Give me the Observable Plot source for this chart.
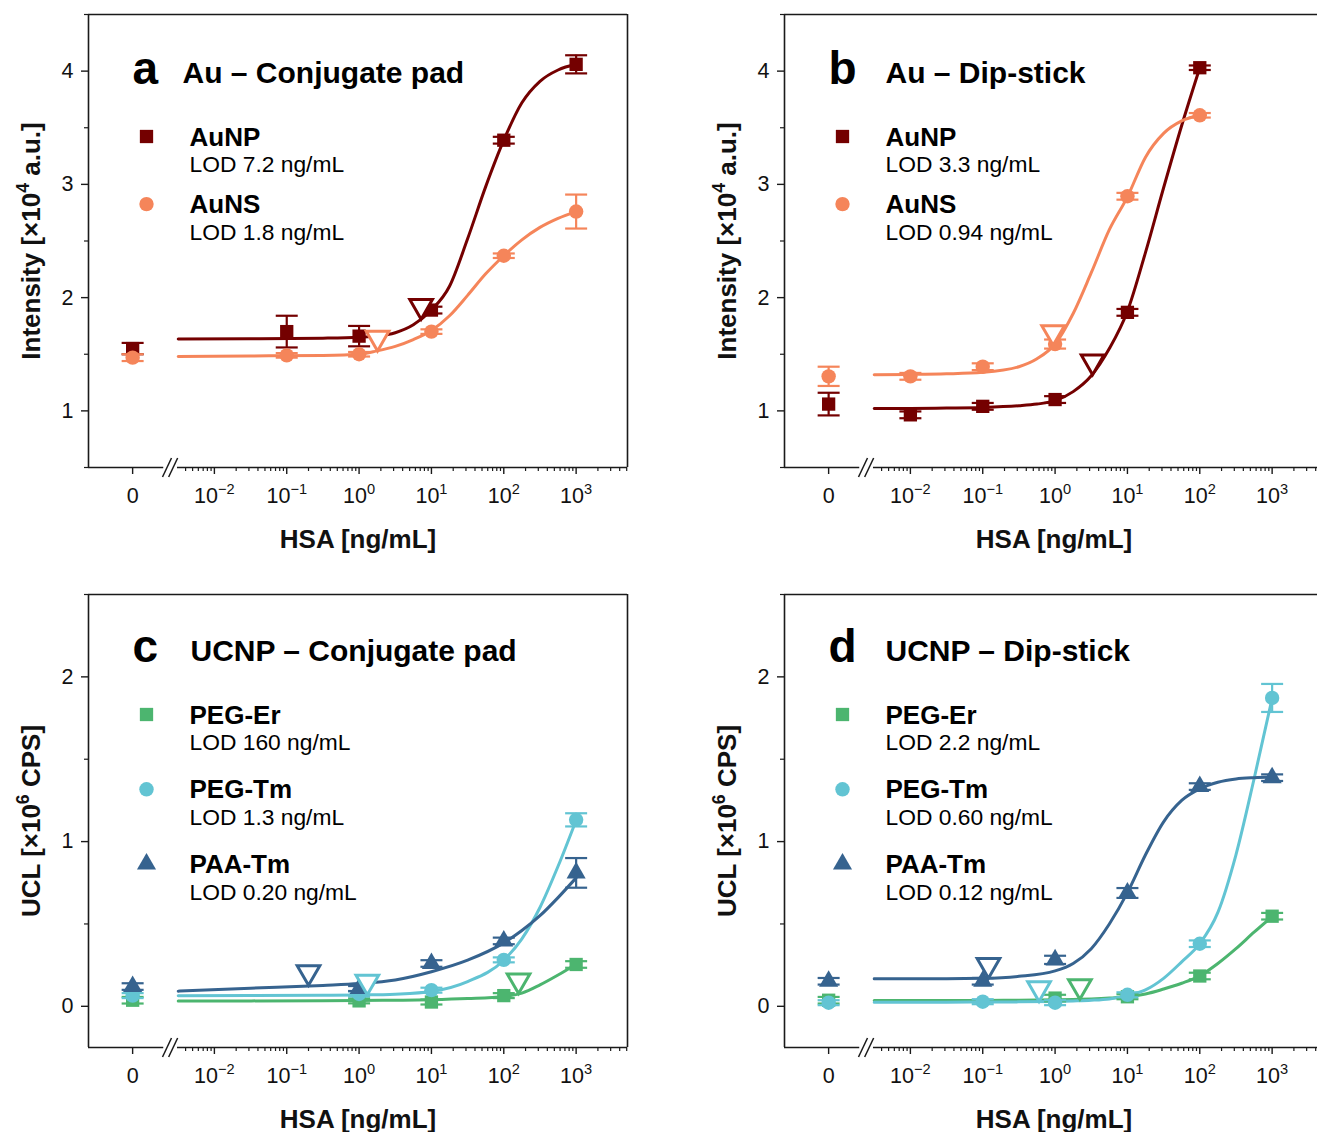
<!DOCTYPE html>
<html><head><meta charset="utf-8">
<script src="https://cdn.jsdelivr.net/npm/d3@7"></script>
<script src="https://cdn.jsdelivr.net/npm/@observablehq/plot@0.6"></script>
<style>
html,body{margin:0;padding:0;background:#fff;overflow:hidden;width:1317px;height:1132px;}
#wrap{position:relative;width:1317px;height:1132px;overflow:hidden;}
.panel{position:absolute;width:660px;height:566px;}
.panel svg{max-width:none !important;width:660px;height:566px;}
</style></head><body><div id="wrap"></div>
<script>
// ================= DATA =================
// x tick labels (broken axis: "0" then log decades)
const X_MAJOR = [0, 0.01, 0.1, 1, 10, 100, 1000];
const X_MAJOR_LABELS = ["0", "10^{−2}", "10^{−1}", "10^{0}", "10^{1}", "10^{2}", "10^{3}"];

// ----- Panel a : Au – Conjugate pad -----
const a_AuNP_conc = [0, 0.1, 1, 10, 100, 1000];
const a_AuNP_val  = [1.55, 1.70, 1.66, 1.89, 3.39, 4.06];
const a_AuNP_err  = [0.05, 0.14, 0.09, 0.03, 0.03, 0.08];
const a_AuNS_conc = [0, 0.1, 1, 10, 100, 1000];
const a_AuNS_val  = [1.47, 1.49, 1.50, 1.70, 2.37, 2.76];
const a_AuNS_err  = [0.03, 0.02, 0.02, 0.02, 0.02, 0.15];
const a_fitLog    = [-2.5, -1.5, -0.5, 0, 0.25, 0.5, 0.75, 1, 1.25, 1.5, 1.75, 2, 2.25, 2.5, 2.75, 3];
const a_AuNP_fit  = [1.635, 1.637, 1.642, 1.65, 1.66, 1.69, 1.76, 1.89, 2.10, 2.52, 2.98, 3.39, 3.72, 3.91, 4.01, 4.06];
const a_AuNS_fit  = [1.48, 1.485, 1.49, 1.50, 1.53, 1.57, 1.63, 1.71, 1.84, 2.02, 2.21, 2.37, 2.51, 2.62, 2.70, 2.76];
const a_lodConc   = [7.2, 1.8];
const a_lodVal    = [1.81, 1.53];

// ----- Panel b : Au – Dip-stick -----
const b_AuNP_conc = [0, 0.01, 0.1, 1, 10, 100];
const b_AuNP_val  = [1.06, 0.965, 1.04, 1.10, 1.87, 4.03];
const b_AuNP_err  = [0.10, 0.03, 0.03, 0.03, 0.03, 0.02];
const b_AuNS_conc = [0, 0.01, 0.1, 1, 10, 100];
const b_AuNS_val  = [1.305, 1.305, 1.39, 1.59, 2.895, 3.61];
const b_AuNS_err  = [0.085, 0.03, 0.03, 0.04, 0.03, 0.02];
const b_fitLog    = [-2.5, -2, -1.5, -1, -0.5, -0.25, 0, 0.25, 0.5, 0.75, 1, 1.25, 1.5, 1.75, 2];
const b_AuNP_fit  = [1.02, 1.022, 1.025, 1.03, 1.045, 1.06, 1.09, 1.17, 1.31, 1.55, 1.88, 2.40, 2.97, 3.52, 4.03];
const b_AuNS_fit  = [1.32, 1.322, 1.327, 1.34, 1.39, 1.46, 1.59, 1.86, 2.22, 2.60, 2.89, 3.24, 3.45, 3.56, 3.61];
const b_lodConc   = [3.3, 0.94];
const b_lodVal    = [1.32, 1.58];

// ----- Panel c : UCNP – Conjugate pad -----
const c_PEGEr_conc = [0, 1, 10, 100, 1000];
const c_PEGEr_val  = [0.037, 0.033, 0.026, 0.065, 0.254];
const c_PEGEr_err  = [0.02, 0.015, 0.015, 0.015, 0.02];
const c_PEGTm_conc = [0, 1, 10, 100, 1000];
const c_PEGTm_val  = [0.065, 0.075, 0.098, 0.282, 1.132];
const c_PEGTm_err  = [0.015, 0.015, 0.015, 0.015, 0.04];
const c_PAATm_conc = [0, 1, 10, 100, 1000];
const c_PAATm_val  = [0.12, 0.108, 0.26, 0.397, 0.81];
const c_PAATm_err  = [0.02, 0.015, 0.02, 0.02, 0.09];
const c_fitLog     = [-2.5, -1.5, -0.5, 0, 0.5, 1, 1.5, 2, 2.25, 2.5, 2.75, 3];
const c_PEGEr_fit  = [0.033, 0.033, 0.034, 0.035, 0.037, 0.040, 0.047, 0.060, 0.080, 0.13, 0.19, 0.256];
const c_PEGTm_fit  = [0.064, 0.065, 0.067, 0.069, 0.074, 0.09, 0.15, 0.28, 0.41, 0.60, 0.85, 1.13];
const c_PAATm_fit  = [0.092, 0.11, 0.127, 0.138, 0.16, 0.21, 0.28, 0.385, 0.46, 0.55, 0.66, 0.78];
const c_lodConc    = [160, 1.3, 0.20];
const c_lodVal     = [0.078, 0.070, 0.128];

// ----- Panel d : UCNP – Dip-stick -----
const d_PEGEr_conc = [0, 1, 10, 100, 1000];
const d_PEGEr_val  = [0.037, 0.05, 0.058, 0.184, 0.547];
const d_PEGEr_err  = [0.02, 0.02, 0.015, 0.02, 0.02];
const d_PEGTm_conc = [0, 0.1, 1, 10, 100, 1000];
const d_PEGTm_val  = [0.022, 0.028, 0.022, 0.07, 0.38, 1.872];
const d_PEGTm_err  = [0.015, 0.015, 0.015, 0.015, 0.02, 0.085];
const d_PAATm_conc = [0, 0.1, 1, 10, 100, 1000];
const d_PAATm_val  = [0.152, 0.152, 0.282, 0.688, 1.334, 1.388];
const d_PAATm_err  = [0.02, 0.02, 0.025, 0.03, 0.02, 0.02];
const d_fitLog     = [-2.5, -1.5, -1, -0.5, 0, 0.25, 0.5, 0.75, 1, 1.25, 1.5, 1.75, 2, 2.25, 2.5, 2.75, 3];
const d_PEGEr_fit  = [0.035, 0.035, 0.036, 0.037, 0.040, 0.042, 0.045, 0.050, 0.058, 0.075, 0.105, 0.14, 0.185, 0.26, 0.35, 0.45, 0.545];
const d_PEGTm_fit  = [0.025, 0.025, 0.026, 0.027, 0.030, 0.033, 0.037, 0.045, 0.065, 0.10, 0.17, 0.27, 0.38, 0.57, 0.92, 1.38, 1.87];
const d_PAATm_fit  = [0.167, 0.168, 0.170, 0.182, 0.215, 0.26, 0.35, 0.50, 0.69, 0.92, 1.12, 1.25, 1.32, 1.36, 1.38, 1.388, 1.392];
const d_lodConc    = [2.2, 0.60, 0.12];
const d_lodVal     = [0.043, 0.030, 0.171];

// ================= STYLE / LAYOUT =================
const FONT = "'Liberation Sans', Arial, Helvetica, sans-serif";
const INK = "#1a1a1a";
const C_AuNP = "#740000", C_AuNS = "#F5855A";
const C_Er = "#4CB56F", C_Tm = "#62C4D3", C_PAA = "#36638F";
const ZERO_POS = -3.13;            // where the "0" category sits (in decades)
const X_DOMAIN = [-3.74, 3.71];
const BREAK = [-2.70, -2.51];
const SLASH_POS = [-2.655, -2.57];

const pos = c => c === 0 ? ZERO_POS : Math.log10(c);
const X_LABEL = new Map(X_MAJOR.map((c, i) => [pos(c), X_MAJOR_LABELS[i]]));
const X_MINOR = [];
for (let e = -3; e <= 3; e++) for (let m = 2; m <= 9; m++) {
  const p = Math.log10(m * Math.pow(10, e));
  if (p > BREAK[1] + 0.08 && p < X_DOMAIN[1]) X_MINOR.push(p);
}

const capSym = {draw(ctx){ ctx.moveTo(-11, 0); ctx.lineTo(11, 0); }};
const slashSym = {draw(ctx){ ctx.moveTo(-4.5, 9.5); ctx.lineTo(4.5, -9.5); }};
const R = {square: 7.5, circle: 7.2, triangle: 7.1};

const rows = (conc, val, err) => conc.map((c, i) => ({p: pos(c), v: val[i], lo: val[i] - err[i], hi: val[i] + err[i]}));
const fitRows = (logs, vals) => logs.map((p, i) => ({p, v: vals[i]}));

const panels = [
  {left: 0, top: 0, letter: "a", title: "Au – Conjugate pad", titleDx: 94, yDomain: [0.5, 4.5], yTicks: [1, 2, 3, 4], yMinor: [0.5, 1.5, 2.5, 3.5, 4.5],
   yLabel: "Intensity [×10^{4} a.u.]", legTop: 122, legGap: 67.6, titleBase: 68,
   series: [
     {name: "AuNP", lod: "LOD 7.2 ng/mL", color: C_AuNP, symbol: "square", pts: rows(a_AuNP_conc, a_AuNP_val, a_AuNP_err), fit: fitRows(a_fitLog, a_AuNP_fit), lodX: a_lodConc[0], lodY: a_lodVal[0]},
     {name: "AuNS", lod: "LOD 1.8 ng/mL", color: C_AuNS, symbol: "circle", pts: rows(a_AuNS_conc, a_AuNS_val, a_AuNS_err), fit: fitRows(a_fitLog, a_AuNS_fit), lodX: a_lodConc[1], lodY: a_lodVal[1]}
   ]},
  {left: 696, top: 0, letter: "b", title: "Au – Dip-stick", titleDx: 101, yDomain: [0.5, 4.5], yTicks: [1, 2, 3, 4], yMinor: [0.5, 1.5, 2.5, 3.5, 4.5],
   yLabel: "Intensity [×10^{4} a.u.]", legTop: 122, legGap: 67.6, titleBase: 68,
   series: [
     {name: "AuNP", lod: "LOD 3.3 ng/mL", color: C_AuNP, symbol: "square", pts: rows(b_AuNP_conc, b_AuNP_val, b_AuNP_err), fit: fitRows(b_fitLog, b_AuNP_fit), lodX: b_lodConc[0], lodY: b_lodVal[0]},
     {name: "AuNS", lod: "LOD 0.94 ng/mL", color: C_AuNS, symbol: "circle", pts: rows(b_AuNS_conc, b_AuNS_val, b_AuNS_err), fit: fitRows(b_fitLog, b_AuNS_fit), lodX: b_lodConc[1], lodY: b_lodVal[1]}
   ]},
  {left: 0, top: 580, letter: "c", title: "UCNP – Conjugate pad", titleDx: 102, yDomain: [-0.25, 2.5], yTicks: [0, 1, 2], yMinor: [0.5, 1.5, 2.5],
   yLabel: "UCL [×10^{6} CPS]", legTop: 120, legGap: 74.8, titleBase: 66.7,
   series: [
     {name: "PEG-Er", lod: "LOD 160 ng/mL", color: C_Er, symbol: "square", pts: rows(c_PEGEr_conc, c_PEGEr_val, c_PEGEr_err), fit: fitRows(c_fitLog, c_PEGEr_fit), lodX: c_lodConc[0], lodY: c_lodVal[0]},
     {name: "PEG-Tm", lod: "LOD 1.3 ng/mL", color: C_Tm, symbol: "circle", pts: rows(c_PEGTm_conc, c_PEGTm_val, c_PEGTm_err), fit: fitRows(c_fitLog, c_PEGTm_fit), lodX: c_lodConc[1], lodY: c_lodVal[1]},
     {name: "PAA-Tm", lod: "LOD 0.20 ng/mL", color: C_PAA, symbol: "triangle", pts: rows(c_PAATm_conc, c_PAATm_val, c_PAATm_err), fit: fitRows(c_fitLog, c_PAATm_fit), lodX: c_lodConc[2], lodY: c_lodVal[2]}
   ]},
  {left: 696, top: 580, letter: "d", title: "UCNP – Dip-stick", titleDx: 101, yDomain: [-0.25, 2.5], yTicks: [0, 1, 2], yMinor: [0.5, 1.5, 2.5],
   yLabel: "UCL [×10^{6} CPS]", legTop: 120, legGap: 74.8, titleBase: 66.7,
   series: [
     {name: "PEG-Er", lod: "LOD 2.2 ng/mL", color: C_Er, symbol: "square", pts: rows(d_PEGEr_conc, d_PEGEr_val, d_PEGEr_err), fit: fitRows(d_fitLog, d_PEGEr_fit), lodX: d_lodConc[0], lodY: d_lodVal[0]},
     {name: "PEG-Tm", lod: "LOD 0.60 ng/mL", color: C_Tm, symbol: "circle", pts: rows(d_PEGTm_conc, d_PEGTm_val, d_PEGTm_err), fit: fitRows(d_fitLog, d_PEGTm_fit), lodX: d_lodConc[1], lodY: d_lodVal[1]},
     {name: "PAA-Tm", lod: "LOD 0.12 ng/mL", color: C_PAA, symbol: "triangle", pts: rows(d_PAATm_conc, d_PAATm_val, d_PAATm_err), fit: fitRows(d_fitLog, d_PAATm_fit), lodX: d_lodConc[2], lodY: d_lodVal[2]}
   ]}
];

function buildPanel(P) {
  const yd = P.yDomain;
  const m = [];
  // frame with axis break
  m.push(Plot.ruleY([yd[1]], {stroke: INK, strokeWidth: 1.6}));
  m.push(Plot.ruleX([X_DOMAIN[0]], {stroke: INK, strokeWidth: 1.6}));
  m.push(Plot.ruleX([X_DOMAIN[1]], {stroke: INK, strokeWidth: 1.6}));
  m.push(Plot.ruleY([yd[0]], {x1: X_DOMAIN[0], x2: BREAK[0], stroke: INK, strokeWidth: 1.6}));
  m.push(Plot.ruleY([yd[0]], {x1: BREAK[1], x2: X_DOMAIN[1], stroke: INK, strokeWidth: 1.6}));
  m.push(Plot.dot(SLASH_POS, {x: d => d, y: yd[0], symbol: slashSym, r: 5, stroke: INK, strokeWidth: 1.5, fill: "none"}));
  // axes
  m.push(Plot.axisX({ticks: X_MAJOR.map(pos), tickFormat: d => X_LABEL.get(d), tickSize: 7, tickPadding: 13, fontSize: 21.5, stroke: INK, strokeWidth: 1.4, fill: "#111", label: null}));
  m.push(Plot.axisX({ticks: X_MINOR, tickSize: 4, stroke: INK, strokeWidth: 1.2, fill: "none", label: null}));
  m.push(Plot.axisY({ticks: P.yTicks, tickFormat: d => String(d), tickSize: 7, tickPadding: 8, fontSize: 21.5, stroke: INK, strokeWidth: 1.4, fill: "#111", label: null}));
  m.push(Plot.axisY({ticks: P.yMinor, tickSize: 4, stroke: INK, strokeWidth: 1.2, fill: "none", label: null}));
  // axis titles
  m.push(Plot.text([P.yLabel], {frameAnchor: "left", dx: -48.5, rotate: -90, textAnchor: "middle", lineAnchor: "bottom", fontSize: 26, fontWeight: "bold", fill: "#111"}));
  m.push(Plot.text(["HSA [ng/mL]"], {frameAnchor: "bottom", dy: 80, textAnchor: "middle", lineAnchor: "bottom", fontSize: 26, fontWeight: "bold", fill: "#111"}));
  // fitted curves
  for (const s of P.series) m.push(Plot.line(s.fit, {x: "p", y: "v", stroke: s.color, strokeWidth: 3, curve: "monotone-x"}));
  // error bars + markers
  for (const s of P.series) {
    m.push(Plot.ruleX(s.pts, {x: "p", y1: "lo", y2: "hi", stroke: s.color, strokeWidth: 2.2}));
    m.push(Plot.dot(s.pts, {x: "p", y: "lo", symbol: capSym, r: 5, stroke: s.color, strokeWidth: 2.2, fill: "none"}));
    m.push(Plot.dot(s.pts, {x: "p", y: "hi", symbol: capSym, r: 5, stroke: s.color, strokeWidth: 2.2, fill: "none"}));
    m.push(Plot.dot(s.pts, {x: "p", y: "v", symbol: s.symbol, r: R[s.symbol], fill: s.color, stroke: "none"}));
  }
  // LOD markers (open down triangles, tip on the curve)
  for (const s of P.series) {
    m.push(Plot.dot([s], {x: d => Math.log10(d.lodX), y: d => d.lodY, symbol: "triangle", rotate: 180, r: 8.4, dy: -13, fill: "white", stroke: s.color, strokeWidth: 3}));
  }
  // panel letter + title
  m.push(Plot.text([P.letter], {frameAnchor: "top-left", dx: 44, dy: P.titleBase + 1, textAnchor: "start", lineAnchor: "bottom", fontSize: 46, fontWeight: "bold", fill: "#000"}));
  m.push(Plot.text([P.title], {frameAnchor: "top-left", dx: P.titleDx, dy: P.titleBase, textAnchor: "start", lineAnchor: "bottom", fontSize: 30, fontWeight: "bold", fill: "#000"}));
  // legend
  P.series.forEach((s, i) => {
    const y0 = P.legTop + i * P.legGap;
    m.push(Plot.dot([0], {frameAnchor: "top-left", dx: 58, dy: y0, symbol: s.symbol, r: R[s.symbol], fill: s.color, stroke: "none"}));
    m.push(Plot.text([s.name], {frameAnchor: "top-left", dx: 101, dy: y0 + 9, textAnchor: "start", lineAnchor: "bottom", fontSize: 26, fontWeight: "bold", fill: "#000"}));
    m.push(Plot.text([s.lod], {frameAnchor: "top-left", dx: 101, dy: y0 + 35.5, textAnchor: "start", lineAnchor: "bottom", fontSize: 22.8, fill: "#000"}));
  });

  return Plot.plot({
    width: 660, height: 566,
    marginLeft: 88, marginRight: 33, marginTop: 14, marginBottom: 99,
    x: {domain: X_DOMAIN},
    y: {domain: yd},
    style: {fontFamily: FONT, background: "transparent", overflow: "visible", color: "#111", maxWidth: "none"},
    marks: m
  });
}

// turn "10^{−2}" into real superscripts
function supify(root) {
  const NS = "http://www.w3.org/2000/svg";
  root.querySelectorAll("text").forEach(t => {
    const s = t.textContent;
    if (!s.includes("^{")) return;
    const fs = parseFloat(getComputedStyle(t).fontSize) || 21;
    while (t.firstChild) t.removeChild(t.firstChild);
    const parts = s.split(/(\^\{[^}]*\})/).filter(x => x.length);
    let raised = false;
    for (const part of parts) {
      const ts = document.createElementNS(NS, "tspan");
      if (part.startsWith("^{")) {
        ts.textContent = part.slice(2, -1);
        ts.setAttribute("font-size", (fs * 0.68).toFixed(1));
        ts.setAttribute("dy", (-fs * 0.42).toFixed(1));
        raised = true;
      } else {
        ts.textContent = part;
        if (raised) { ts.setAttribute("dy", (fs * 0.42).toFixed(1)); raised = false; }
      }
      t.appendChild(ts);
    }
  });
}

const wrap = document.getElementById("wrap");
for (const P of panels) {
  const div = document.createElement("div");
  div.className = "panel";
  div.style.left = P.left + "px";
  div.style.top = P.top + "px";
  const svg = buildPanel(P);
  div.appendChild(svg);
  wrap.appendChild(div);
  supify(svg);
}
</script>
</body></html>
